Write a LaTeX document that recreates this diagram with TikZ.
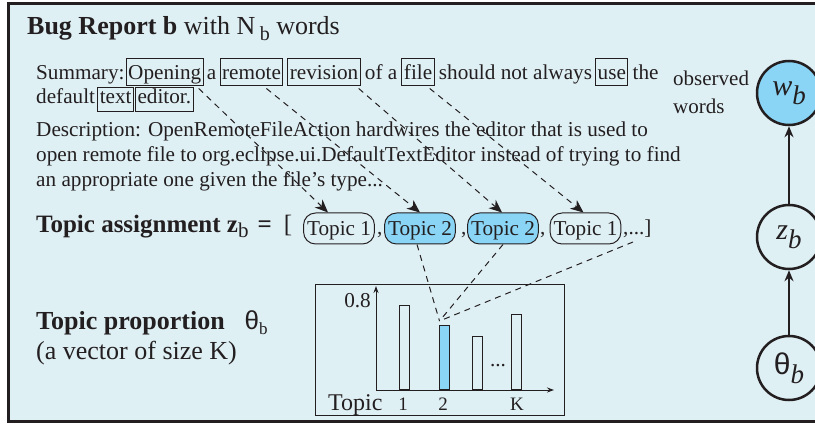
\documentclass[tikz,border=0pt]{standalone}
\usepackage{fontspec}
\setmainfont{Liberation Serif}
\newfontfamily\sansgr{Liberation Sans}
\usetikzlibrary{arrows.meta}
\definecolor{bgblue}{HTML}{DFF0F5}
\definecolor{hiblue}{HTML}{8AD5F5}
\definecolor{ink}{HTML}{231F20}
\newcommand{\bodyf}{\fontsize{21.2}{25}\selectfont}
\newcommand{\bigf}{\fontsize{26}{30}\selectfont}
\begin{document}
\begin{tikzpicture}[x=1pt,y=-1pt,
  txt/.style={inner sep=0pt, anchor=base west, font=\bodyf, text=ink},
  wba/.style={draw=ink, line width=1pt, inner xsep=2pt, inner ysep=0pt, text height=21pt, text depth=6pt, anchor=base west, font=\bodyf, text=ink},
  wbb/.style={wba, text height=16pt, text depth=8pt},
  pill/.style={draw=ink, line width=1pt, rounded corners=12pt, inner xsep=3.5pt, inner ysep=0pt, minimum height=31pt, font=\bodyf, text height=14pt, text depth=0pt, text=ink},
  darr/.style={draw=ink, line width=1pt, dash pattern=on 6pt off 5pt, -{Stealth[length=13pt,width=11pt,inset=4pt,fill=ink]}},
  dln/.style={draw=ink, line width=1pt, dash pattern=on 6pt off 5pt},
  bar/.style={draw=ink, line width=1pt, minimum width=10pt, inner sep=0pt, anchor=south},
  axis/.style={draw=ink, line width=1pt, -{Stealth[length=7pt,width=5pt]}},
  circ/.style={circle, draw=ink, line width=2.5pt, minimum size=64pt, inner sep=0pt, text=ink},
  conn/.style={draw=ink, line width=2.5pt, -{Stealth[length=11pt,width=9pt]}}
]
\useasboundingbox (0,0) rectangle (815,425);
\clip (0,0) rectangle (815,425);
\fill[white] (0,0) rectangle (815,425);
\draw[line width=3pt, draw=ink, fill=bgblue] (8.5,3.5) rectangle (840,421.5);

% title
\node[txt, font=\bigf] (title) at (27,35) {\textbf{Bug Report b} with N\,\raisebox{-6pt}{\fontsize{20}{20}\selectfont b} words};

% summary line
\node[txt] (s0) at (36,80) {Summary:};
\node[wba] (w1) at ([xshift=1pt]s0.base east) {Opening};
\node[txt] (s1) at ([xshift=3pt]w1.base east) {a};
\node[wba] (w2) at ([xshift=3pt]s1.base east) {remote};
\node[wba] (w3) at ([xshift=4pt]w2.base east) {revision};
\node[txt] (s2) at ([xshift=4pt]w3.base east) {of a};
\node[wba] (w4) at ([xshift=4pt]s2.base east) {file};
\node[txt] (s3) at ([xshift=4pt]w4.base east) {should not always};
\node[wba] (w5) at ([xshift=3pt]s3.base east) {use};
\node[txt] (s4) at ([xshift=4pt]w5.base east) {the};

\node[txt] (d0) at (36,104) {default};
\node[wbb] (w6) at ([xshift=2pt]d0.base east) {text};
\node[wbb] (w7) at ([xshift=1pt]w6.base east) {editor.};

% description
\node[txt] (l1) at (36,137) {Description: OpenRemoteFileAction hardwires the editor that is used to};
\node[txt] (l2) at (36,162) {open remote file to org.eclipse.ui.DefaultTextEditor instead of trying to find};
\node[txt] (l3) at (36,187) {an appropriate one given the file's type...};

% topic assignment
\node[txt, font=\fontsize{25}{30}\selectfont] (ta) at (36,233) {\textbf{Topic assignment z}\raisebox{-5pt}{\fontsize{21}{21}\selectfont b}\hspace{9pt}\textbf{=}\hspace{12pt}[};
\node[pill] (p1) at (339,228.5) {Topic 1};
\node[pill, fill=hiblue] (p2) at (420,228.5) {Topic 2};
\node[pill, fill=hiblue] (p3) at (503,228.5) {Topic 2};
\node[pill] (p4) at (585.5,228.5) {Topic 1};
\node[txt] (c1) at (377,235) {,};
\node[txt] (c2) at (461,235) {,};
\node[txt] (c3) at (540,235) {,};
\node[txt] (rest) at (623,235) {,...]};

% word -> topic arrows
\draw[darr] ([shift={(-5pt,-2pt)}]w1.south east) -- ([xshift=-11pt]p1.north);
\draw[darr] ([shift={(-17pt,-2pt)}]w2.south east) -- (p2.north);
\draw[darr] ([shift={(-2pt,-2pt)}]w3.south east) -- ([xshift=-1pt]p3.north);
\draw[darr] ([shift={(-5pt,-2pt)}]w4.south east) -- ([xshift=-2pt]p4.north);

% chart
\node[draw=ink, line width=1pt, minimum width=249pt, minimum height=130pt, inner sep=0pt] (chart) at (439.5,350) {};
\coordinate (orig) at (376,390);
\coordinate (ytop) at (376,286);
\coordinate (xend) at (554,390);
\draw[axis] (orig) -- (ytop);
\draw[axis] (orig) -- (xend);
\node[bar, minimum height=84pt] (bar1) at (404,390) {};
\node[bar, minimum height=64pt, fill=hiblue] (bar2) at (444,390) {};
\node[bar, minimum height=53pt] (bar3) at (477,390) {};
\node[bar, minimum height=75pt] (barK) at (516,390) {};
\node[txt, anchor=base east] (v08) at (371,307) {0.8};
\node[txt, font=\fontsize{24}{24}\selectfont] (xlab) at (328,410) {Topic};
\node[txt, anchor=base, font=\fontsize{19}{19}\selectfont] (n1) at (403,410) {1};
\node[txt, anchor=base, font=\fontsize{19}{19}\selectfont] (n2) at (443,410) {2};
\node[txt, anchor=base, font=\fontsize{19}{19}\selectfont] (nK) at (517,410) {K};
\node[txt, anchor=base] (dots) at (498,366) {...};

\coordinate (cv) at ([shift={(1pt,4pt)}]bar2.north west);
\draw[dln] ([xshift=-3pt]p2.south) -- (cv);
\draw[dln] (p3.south) -- (cv);
\draw[dln] ([shift={(10pt,-7pt)}]rest.base west) -- (cv);

% topic proportion
\node[txt, font=\bigf] (tp) at (36,330) {\textbf{Topic proportion}\hspace{20pt}{\sansgr θ}\raisebox{-5pt}{\fontsize{17}{17}\selectfont b}};
\node[txt, font=\bigf] (tp2) at (36,359) {(a vector of size K)};

% graphical model
\node[txt, anchor=north west, align=left, font=\fontsize{21}{28}\selectfont] (obs) at (673,71) {observed\\words};
\node[circ, fill=hiblue] (wb) at (789,93) {{\fontsize{30}{30}\selectfont\itshape w}\raisebox{-9pt}{\fontsize{27}{27}\selectfont\itshape b}};
\node[circ] (zb) at (789,237) {{\fontsize{30}{30}\selectfont\itshape z}\raisebox{-9pt}{\fontsize{27}{27}\selectfont\itshape b}};
\node[circ] (tb) at (789,368) {{\fontsize{30}{30}\selectfont\sansgr θ}\raisebox{-9pt}{\fontsize{27}{27}\selectfont\itshape b}};
\draw[conn] (tb) -- (zb);
\draw[conn] (zb) -- (wb);
\end{tikzpicture}
\end{document}
